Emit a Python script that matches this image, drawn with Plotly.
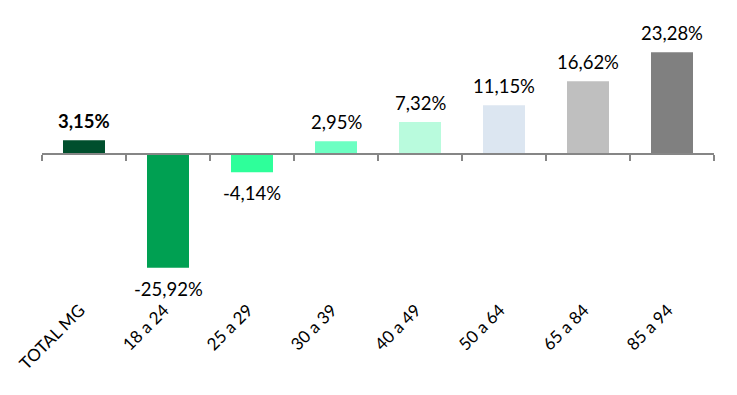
import plotly.graph_objects as go

categories = ["TOTAL MG", "18 a 24", "25 a 29", "30 a 39", "40 a 49", "50 a 64", "65 a 84", "85 a 94"]
values = [3.15, -25.92, -4.14, 2.95, 7.32, 11.15, 16.62, 23.28]
labels = ["3,15%", "-25,92%", "-4,14%", "2,95%", "7,32%", "11,15%", "16,62%", "23,28%"]
colors = ["#004F2D", "#00A052", "#2EFF9A", "#6CFFC2", "#B9FBDD", "#DCE6F1", "#BFBFBF", "#808080"]

FONT = "Lato"
ymin, ymax = -30.8, 32.9

fig = go.Figure()
fig.add_trace(go.Bar(x=categories, y=values, marker=dict(color=colors, line=dict(width=0)),
                     width=0.5, hoverinfo="skip", showlegend=False))
fig.add_trace(go.Scatter(x=categories, y=[0] * len(categories), xaxis="x2", mode="markers",
                         marker=dict(opacity=0), hoverinfo="skip", showlegend=False))

for i, (c, v, t) in enumerate(zip(categories, values, labels)):
    fig.add_annotation(x=c, y=v, text=("<b>%s</b>" % t) if i == 0 else t, showarrow=False,
                       yanchor="bottom" if v >= 0 else "top", yshift=6 if v >= 0 else -8,
                       font=dict(family=FONT, size=18.5, color="#000000"))

zero_pos = (0 - ymin) / (ymax - ymin)

fig.update_layout(
    width=729, height=387,
    margin=dict(l=34, r=23, t=2, b=106),
    paper_bgcolor="white", plot_bgcolor="white",
    xaxis=dict(type="category", categoryorder="array", categoryarray=categories,
               range=[-0.5, 7.5], showline=False, ticks="", tickangle=-45, automargin=False,
               ticklabelstandoff=7, ticklabelshift=-4,
               tickfont=dict(family=FONT, size=17, color="#000000"), showgrid=False),
    xaxis2=dict(type="category", categoryorder="array", categoryarray=categories,
                overlaying="x", anchor="free", position=zero_pos, side="bottom", automargin=False,
                range=[-0.5, 7.5], showline=True, linecolor="#868686", linewidth=1.5,
                ticks="outside", tickson="boundaries", ticklen=6, tickcolor="#868686",
                tickwidth=1.5, showticklabels=False, showgrid=False),
    yaxis=dict(range=[ymin, ymax], visible=False, showgrid=False, zeroline=False, automargin=False),
    bargap=0.5,
)

fig.write_html("out.html")
